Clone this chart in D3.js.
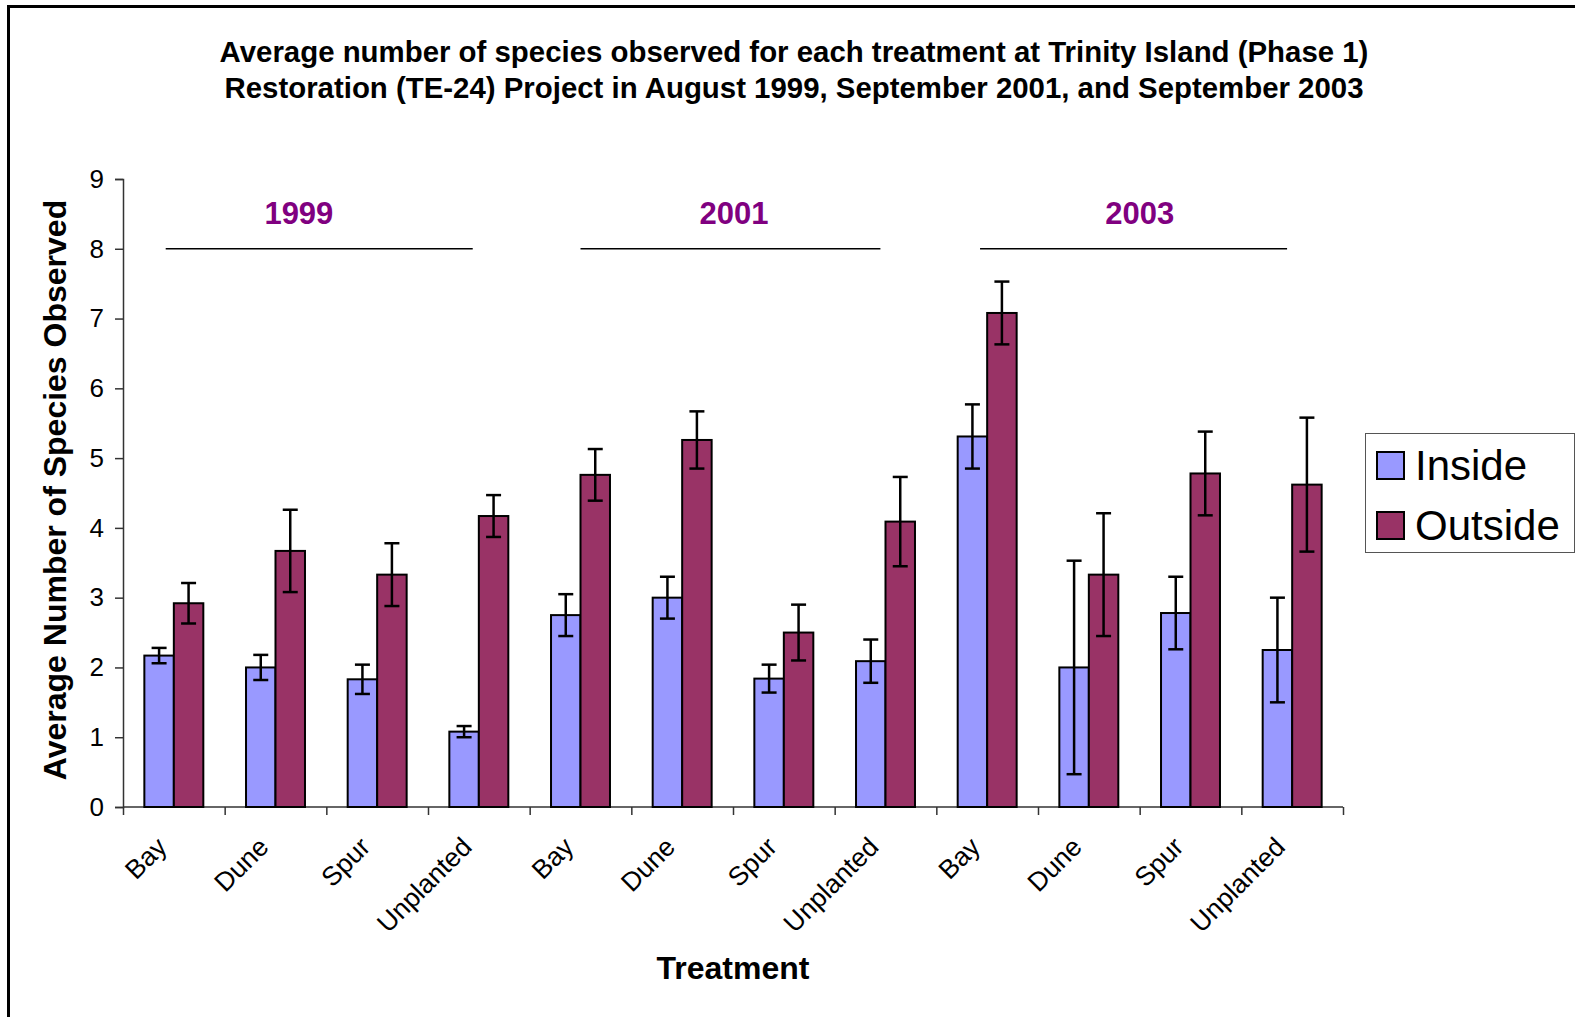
<!DOCTYPE html>
<html>
<head>
<meta charset="utf-8">
<script src="https://cdn.jsdelivr.net/npm/d3@7"></script>
<style>
  html, body { margin: 0; padding: 0; background: #fff; }
  svg { display: block; font-family: "Liberation Sans", Arial, sans-serif; }
</style>
</head>
<body>
<svg id="chart" width="1575" height="1017"></svg>
<script>
// chart values
var treatments = ["Bay", "Dune", "Spur", "Unplanted"];
var years = ["1999", "2001", "2003"];
var series = ["Inside", "Outside"];

var insideMean  = [2.17, 2.00, 1.83, 1.08,  2.75, 3.00, 1.84, 2.09,  5.31, 2.00, 2.78, 2.25];
var insideErr   = [0.11, 0.18, 0.21, 0.08,  0.30, 0.30, 0.20, 0.31,  0.46, 1.53, 0.52, 0.75];
var outsideMean = [2.92, 3.67, 3.33, 4.17,  4.76, 5.26, 2.50, 4.09,  7.08, 3.33, 4.78, 4.62];
var outsideErr  = [0.29, 0.59, 0.45, 0.30,  0.37, 0.41, 0.40, 0.64,  0.45, 0.88, 0.60, 0.96];

var yTicks = [0, 1, 2, 3, 4, 5, 6, 7, 8, 9];

// year bracket annotations, in category-index units and y value
var yearLineStart = [0.42, 4.50, 8.43];
var yearLineEnd   = [3.44, 7.45, 11.45];
var yearLabelAt   = [1.73, 6.01, 10.0];
var yearLineValue = 8;

var colors = { Inside: "#9999FF", Outside: "#993366" };
var font = "'Liberation Sans', Arial, sans-serif";

var svg = d3.select("#chart");

// outer chart frame (only left and top are inside the picture)
svg.append("rect")
  .attr("x", 8.5).attr("y", 6.5)
  .attr("width", 1600).attr("height", 1100)
  .attr("fill", "none").attr("stroke", "#000").attr("stroke-width", 3);

var margin = {left: 123, right: 1343, top: 179, bottom: 807};

var cats = [];
years.forEach(function(yr) {
  treatments.forEach(function(t) { cats.push(yr + "|" + t); });
});

var data = cats.map(function(c, i) {
  return {
    key: c, name: c.split("|")[1],
    values: [
      {series: "Inside", mean: insideMean[i], err: insideErr[i]},
      {series: "Outside", mean: outsideMean[i], err: outsideErr[i]}
    ]
  };
});

var x = d3.scaleBand().domain(cats).range([margin.left, margin.right])
  .paddingInner(0.42).paddingOuter(0.21);
var xInner = d3.scaleBand().domain(series).range([0, x.bandwidth()]);
var xIdx = d3.scaleLinear().domain([0, cats.length]).range([margin.left, margin.right]);
var y = d3.scaleLinear().domain([0, 9]).range([margin.bottom, margin.top]);

// title
var title = svg.append("text")
  .attr("text-anchor", "middle")
  .attr("font-family", font)
  .attr("font-weight", "bold")
  .attr("font-size", 29.4);
title.append("tspan").attr("x", 794).attr("y", 62)
  .text("Average number of species observed for each treatment at Trinity Island (Phase 1)");
title.append("tspan").attr("x", 794).attr("y", 98)
  .text("Restoration (TE-24) Project in August 1999, September 2001, and September 2003");

// y axis
var yAxis = svg.append("g")
  .attr("transform", "translate(" + margin.left + ",0)")
  .call(d3.axisLeft(y).tickValues(yTicks).tickSize(8).tickPadding(11).tickFormat(d3.format("d")));
yAxis.select(".domain").attr("stroke", "#333").attr("stroke-width", 1.5);
yAxis.selectAll(".tick line").attr("stroke", "#333").attr("stroke-width", 1.5);
yAxis.selectAll("text").attr("font-size", 26).attr("fill", "#000")
  .attr("font-family", font);

// x axis: ticks between categories
var xAxis = svg.append("g")
  .attr("transform", "translate(0," + margin.bottom + ")")
  .call(d3.axisBottom(xIdx).tickValues(d3.range(0, cats.length + 1)).tickSize(8).tickFormat(""));
xAxis.select(".domain").attr("stroke", "#333").attr("stroke-width", 1.5)
  .attr("d", "M" + margin.left + ",0H" + margin.right);
xAxis.selectAll(".tick line").attr("stroke", "#333").attr("stroke-width", 1.5);

// rotated category labels
svg.append("g").selectAll("text")
  .data(data)
  .enter().append("text")
    .attr("text-anchor", "end")
    .attr("font-family", font)
    .attr("font-size", 26.5)
    .attr("transform", function(d) {
      return "translate(" + (x(d.key) + x.bandwidth() / 2 - 12) + "," + (margin.bottom + 35) + ") rotate(-45)";
    })
    .attr("dy", "0.35em")
    .text(function(d) { return d.name; });

// bars
var groups = svg.append("g").selectAll("g")
  .data(data)
  .enter().append("g")
    .attr("transform", function(d) { return "translate(" + x(d.key) + ",0)"; });

groups.selectAll("rect")
  .data(function(d) { return d.values; })
  .enter().append("rect")
    .attr("x", function(d) { return xInner(d.series); })
    .attr("y", function(d) { return y(d.mean); })
    .attr("width", xInner.bandwidth())
    .attr("height", function(d) { return y(0) - y(d.mean); })
    .attr("fill", function(d) { return colors[d.series]; })
    .attr("stroke", "#000")
    .attr("stroke-width", 2);

// error bars
var err = groups.selectAll("g.err")
  .data(function(d) { return d.values; })
  .enter().append("g").attr("class", "err")
    .attr("stroke", "#000").attr("stroke-width", 2.5);
var cap = 7.5;
err.append("line")
  .attr("x1", function(d) { return xInner(d.series) + xInner.bandwidth() / 2; })
  .attr("x2", function(d) { return xInner(d.series) + xInner.bandwidth() / 2; })
  .attr("y1", function(d) { return y(d.mean + d.err); })
  .attr("y2", function(d) { return y(d.mean - d.err); });
err.append("line")
  .attr("x1", function(d) { return xInner(d.series) + xInner.bandwidth() / 2 - cap; })
  .attr("x2", function(d) { return xInner(d.series) + xInner.bandwidth() / 2 + cap; })
  .attr("y1", function(d) { return y(d.mean + d.err); })
  .attr("y2", function(d) { return y(d.mean + d.err); });
err.append("line")
  .attr("x1", function(d) { return xInner(d.series) + xInner.bandwidth() / 2 - cap; })
  .attr("x2", function(d) { return xInner(d.series) + xInner.bandwidth() / 2 + cap; })
  .attr("y1", function(d) { return y(d.mean - d.err); })
  .attr("y2", function(d) { return y(d.mean - d.err); });

// year brackets
var ann = svg.append("g").selectAll("g")
  .data(years)
  .enter().append("g");
ann.append("line")
  .attr("x1", function(d, i) { return xIdx(yearLineStart[i]); })
  .attr("x2", function(d, i) { return xIdx(yearLineEnd[i]); })
  .attr("y1", y(yearLineValue)).attr("y2", y(yearLineValue))
  .attr("stroke", "#000").attr("stroke-width", 1.5);
ann.append("text")
  .attr("x", function(d, i) { return xIdx(yearLabelAt[i]); })
  .attr("y", y(yearLineValue) - 25)
  .attr("text-anchor", "middle")
  .attr("font-family", font)
  .attr("font-weight", "bold")
  .attr("font-size", 31)
  .attr("fill", "#800080")
  .text(function(d) { return d; });

// axis titles
svg.append("text")
  .attr("x", 733).attr("y", 979)
  .attr("text-anchor", "middle")
  .attr("font-family", font)
  .attr("font-weight", "bold")
  .attr("font-size", 32)
  .text("Treatment");
svg.append("text")
  .attr("transform", "translate(66,490) rotate(-90)")
  .attr("text-anchor", "middle")
  .attr("font-family", font)
  .attr("font-weight", "bold")
  .attr("font-size", 32)
  .text("Average Number of Species Observed");

// legend
var legend = svg.append("g").attr("transform", "translate(1365,433)");
legend.append("rect")
  .attr("x", 0.5).attr("y", 0.5).attr("width", 209).attr("height", 119)
  .attr("fill", "#fff").attr("stroke", "#555").attr("stroke-width", 1);
var li = legend.selectAll("g.item")
  .data(series)
  .enter().append("g").attr("class", "item")
    .attr("transform", function(d, i) { return "translate(12," + (19 + i * 60) + ")"; });
li.append("rect")
  .attr("width", 27).attr("height", 27)
  .attr("fill", function(d) { return colors[d]; })
  .attr("stroke", "#000").attr("stroke-width", 2);
li.append("text")
  .attr("x", 38).attr("y", 28)
  .attr("font-family", font)
  .attr("font-size", 42)
  .text(function(d) { return d; });
</script>
</body>
</html>
